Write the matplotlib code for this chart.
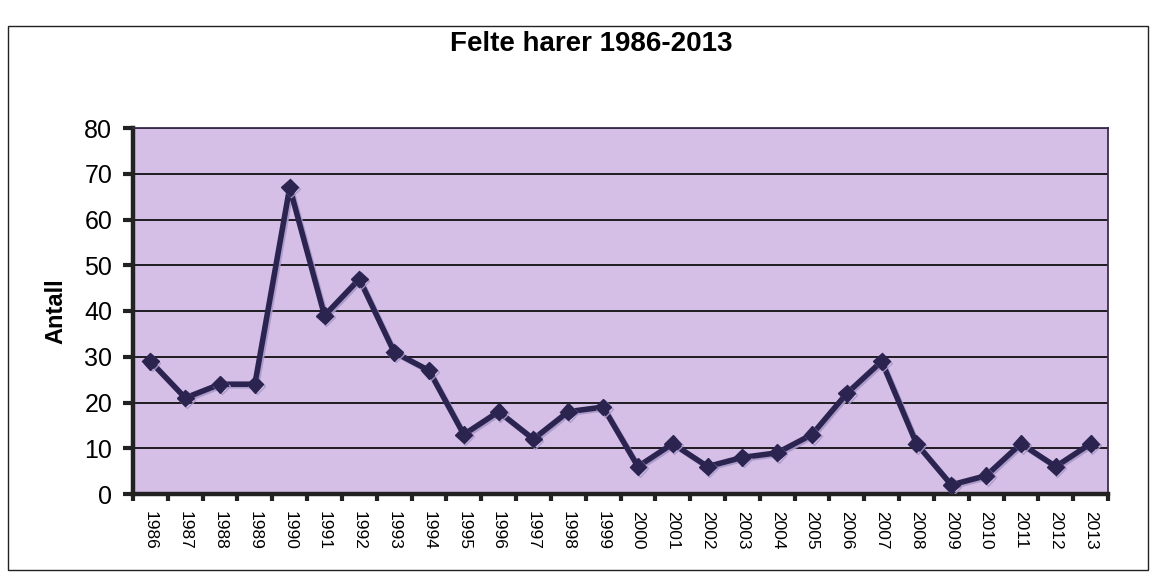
import matplotlib
matplotlib.use("Agg")
import matplotlib.pyplot as plt
from matplotlib.patches import Rectangle
import matplotlib.patheffects as pe

years = [str(y) for y in range(1986, 2014)]
antall = [29, 21, 24, 24, 67, 39, 47, 31, 27, 13, 18, 12, 18, 19,
          6, 11, 6, 8, 9, 13, 22, 29, 11, 2, 4, 11, 6, 11]
yticks = [0, 10, 20, 30, 40, 50, 60, 70, 80]

plt.rcParams['font.family'] = ['Liberation Sans', 'DejaVu Sans']

fig = plt.figure(figsize=(11.54, 5.76), dpi=100)
fig.patch.set_facecolor('white')

# outer chart frame
fig.patches.append(Rectangle((8/1154, 1-570/576), 1140/1154, (570-26)/576,
                             transform=fig.transFigure, fill=False,
                             edgecolor='#222222', linewidth=1.0))

ax = fig.add_axes([133/1154, 1-494/576, 975/1154, 366/576])
ax.set_facecolor('#D5BFE7')

x = list(range(len(years)))
ax.plot(x, antall, color='#2C2450', linewidth=4.0, marker='D', markersize=8.5,
        markerfacecolor='#2C2450', markeredgecolor='#2C2450', zorder=3,
        path_effects=[pe.SimpleLineShadow(offset=(1.2, -1.2), shadow_color='#A898C8', alpha=0.9), pe.Normal()])

ax.set_xlim(-0.5, len(years) - 0.5)
ax.set_ylim(0, 80)
ax.set_yticks(yticks)
ax.set_yticklabels([str(v) for v in yticks], fontsize=18)
ax.yaxis.grid(True, color='black', linewidth=1.2)
ax.set_axisbelow(True)

ax.set_xticks(x)
ax.set_xticklabels(years, rotation=270, fontsize=12.5)
ax.set_xticks([i - 0.5 for i in range(len(years) + 1)], minor=True)
ax.tick_params(axis='x', which='major', length=0, pad=12)
ax.tick_params(axis='x', which='minor', length=5, width=3, color='#222222', direction='out')
ax.tick_params(axis='y', length=7, width=3, color='#222222', direction='out', pad=8)

for s in ['left', 'bottom']:
    ax.spines[s].set_linewidth(3.2)
    ax.spines[s].set_color('#222222')
for s in ['top', 'right']:
    ax.spines[s].set_linewidth(1.3)
    ax.spines[s].set_color('#3A2E4A')

ax.set_ylabel('Antall', fontsize=17, fontweight='bold', labelpad=12)

fig.text(0.512, 1-44/576, 'Felte harer 1986-2013', ha='center', va='center',
         fontsize=20, fontweight='bold')

fig.savefig('out.png', dpi=100)
